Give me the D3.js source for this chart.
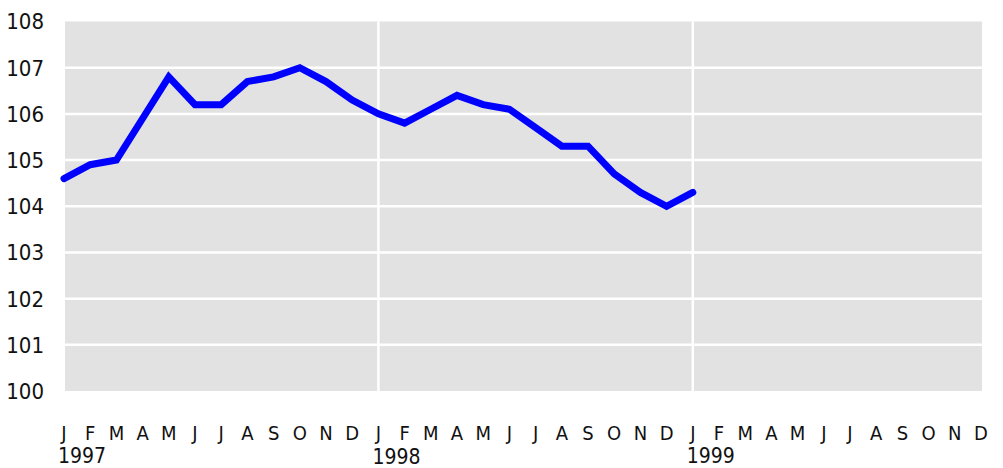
<!DOCTYPE html>
<html>
<head>
<meta charset="utf-8">
<script src="https://cdn.jsdelivr.net/npm/d3@7"></script>
<style>
  body { margin: 0; background: #fff; }
  svg text { font-family: "Liberation Sans Narrow", "DejaVu Sans Condensed", "DejaVu Sans", sans-serif; font-stretch: condensed; fill: #111; }
</style>
</head>
<body>
<svg id="chart" width="1003" height="468"></svg>
<script>
// months J 1997 .. D 1999
var monthLetters = ["J","F","M","A","M","J","J","A","S","O","N","D"];
var years = ["1997", "1998", "1999"];
var yTicks = [100, 101, 102, 103, 104, 105, 106, 107, 108];
// index values, Jan 1997 .. Jan 1999
var values = [104.6, 104.9, 105.0, 105.9, 106.8, 106.2, 106.2, 106.7, 106.8, 107.0, 106.7, 106.3,
              106.0, 105.8, 106.1, 106.4, 106.2, 106.1, 105.7, 105.3, 105.3, 104.7, 104.3, 104.0,
              104.3];

var svg = d3.select("#chart");
var margin = {left: 64, right: 981, top: 21.5, bottom: 391};

var months = d3.range(years.length * 12);
var x = d3.scaleLinear().domain([0, months.length - 1]).range([margin.left, margin.right]);
var y = d3.scaleLinear().domain([100, 108]).range([margin.bottom, margin.top]);

// plot background
svg.append("rect")
  .attr("x", margin.left + 1).attr("y", y(108))
  .attr("width", margin.right - margin.left).attr("height", y(100) - y(108))
  .attr("fill", "#e2e2e2");

// horizontal grid
svg.selectAll(".hgrid")
  .data(yTicks.slice(1, -1))
  .enter().append("line")
  .attr("x1", margin.left + 1).attr("x2", margin.right + 1)
  .attr("y1", function(d) { return y(d); })
  .attr("y2", function(d) { return y(d); })
  .attr("stroke", "#fff").attr("stroke-width", 2.5);

// vertical grid at each January after the first
svg.selectAll(".vgrid")
  .data([12, 24])
  .enter().append("line")
  .attr("x1", function(d) { return x(d); })
  .attr("x2", function(d) { return x(d); })
  .attr("y1", y(108)).attr("y2", y(100))
  .attr("stroke", "#fff").attr("stroke-width", 2.5);

// y labels
svg.selectAll(".ylab")
  .data(yTicks)
  .enter().append("text")
  .attr("x", 44)
  .attr("y", function(d) { return y(d); })
  .attr("dy", "0.36em")
  .attr("text-anchor", "end")
  .style("font-size", "22px")
  .text(function(d) { return d; });

// month letters
svg.selectAll(".mlab")
  .data(months)
  .enter().append("text")
  .attr("x", function(d) { return x(d); })
  .attr("y", 440)
  .attr("text-anchor", "middle")
  .style("font-size", "20px")
  .text(function(d) { return monthLetters[d % 12]; });

// year labels
svg.selectAll(".ylab2")
  .data(years)
  .enter().append("text")
  .attr("x", function(d, i) { return x(i * 12) - 6; })
  .attr("y", function(d, i) { return i == 1 ? 464 : 463; })
  .style("font-size", "21px")
  .text(function(d) { return d; });

var line = d3.line()
  .x(function(d, i) { return x(i); })
  .y(function(d) { return y(d); });

svg.append("path")
  .datum(values)
  .attr("d", line)
  .attr("fill", "none")
  .attr("stroke", "#0000ff")
  .attr("stroke-width", 7)
  .attr("stroke-linejoin", "miter")
  .attr("stroke-linecap", "round");
</script>
</body>
</html>
